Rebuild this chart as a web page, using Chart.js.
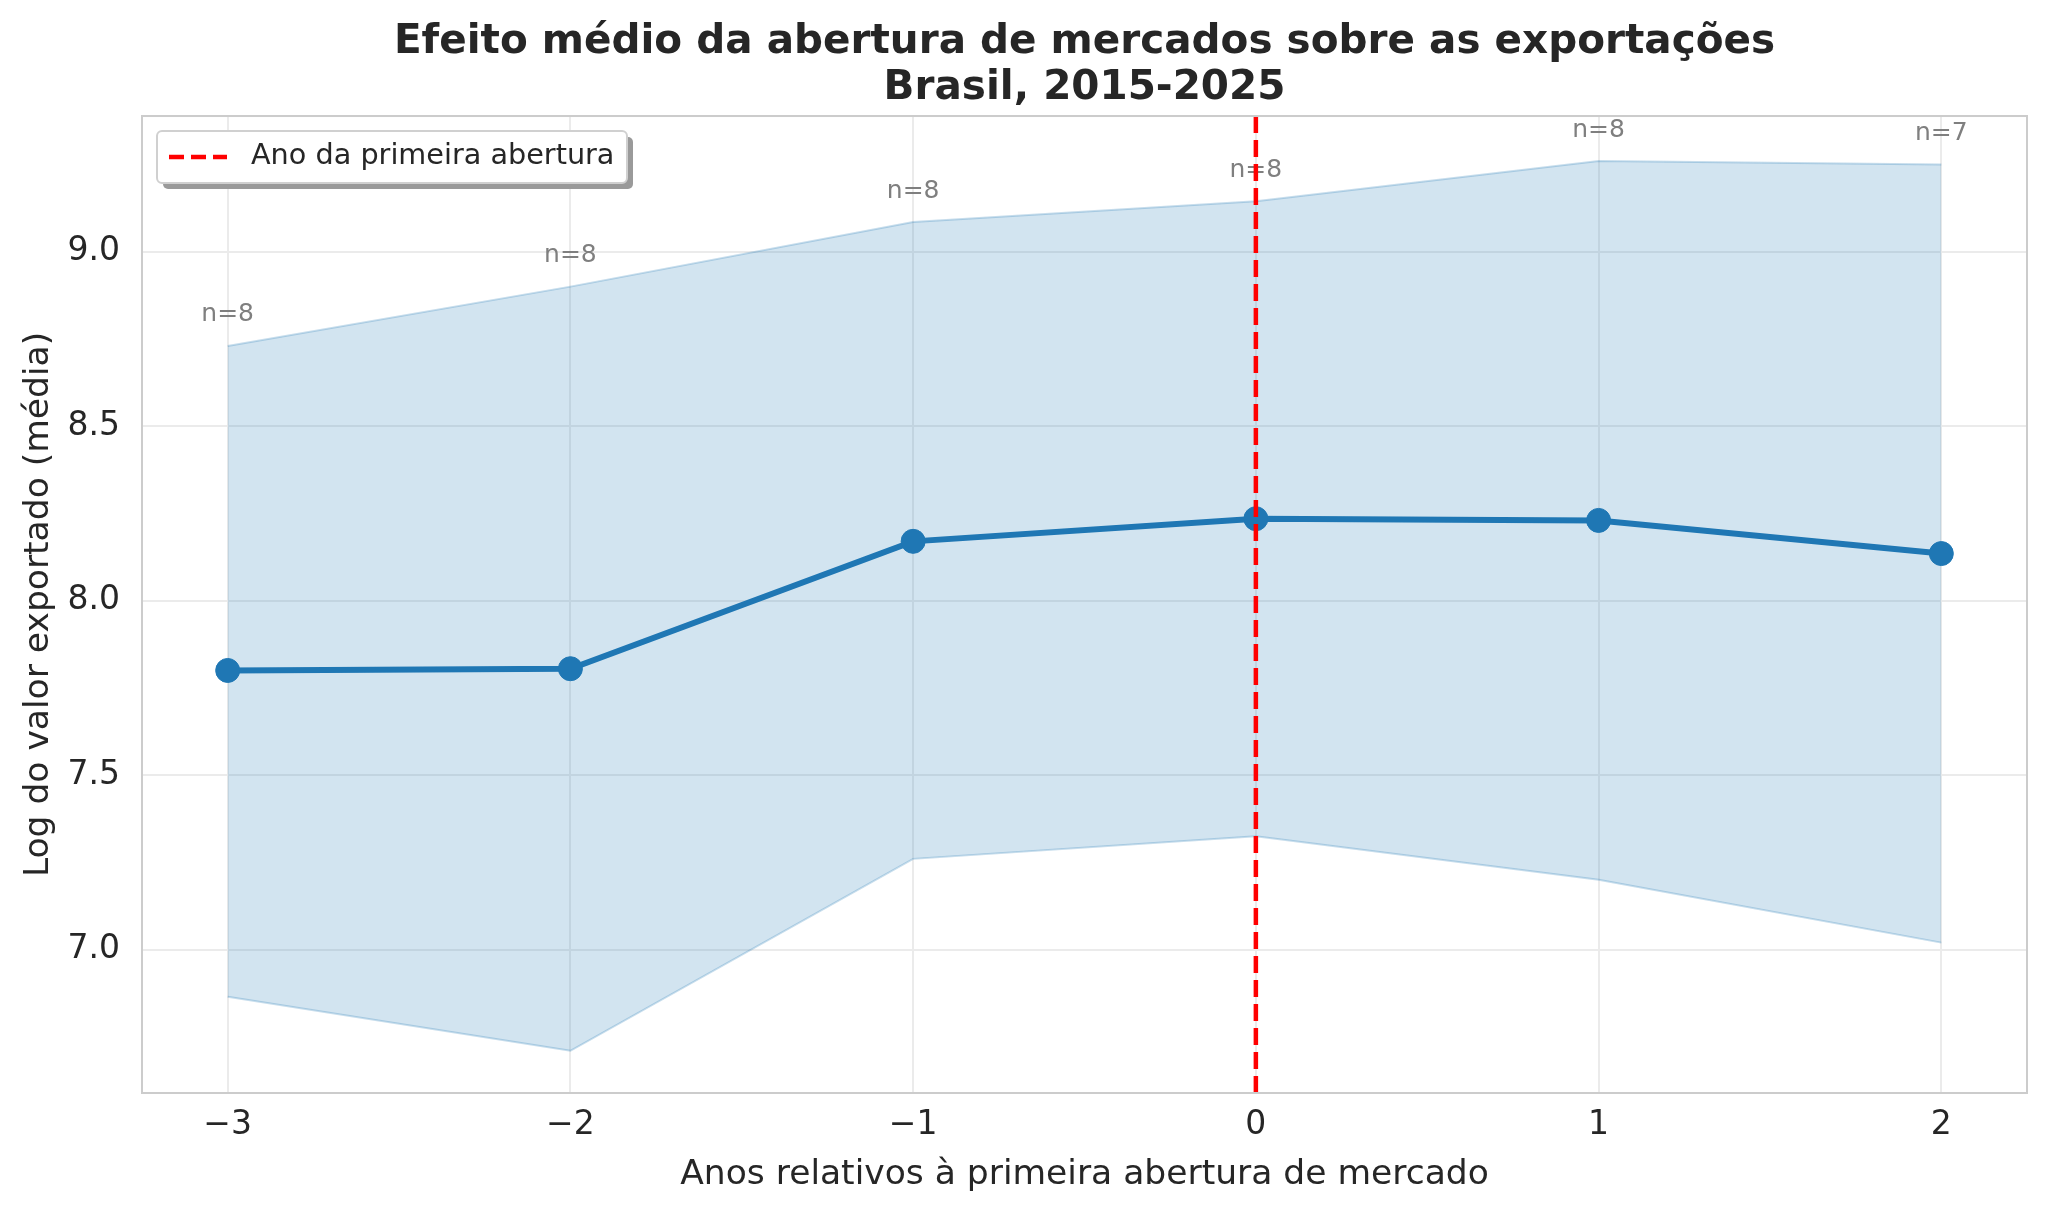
<!DOCTYPE html>
<html>
<head>
    <title>Efeito médio da abertura de mercados</title>
    <style>
        html, body { margin: 0; padding: 0; background: #ffffff; }
        canvas { display: block; }
    </style>
</head>
<body>
    <canvas id="eventChart" width="2048" height="1215" style="width:2048px;height:1215px"></canvas>
    <script src="https://cdn.jsdelivr.net/npm/chart.js"></script>
    <script>
        // dados
        const years = [-3, -2, -1, 0, 1, 2];
        const meanLog = [7.80, 7.805, 8.17, 8.235, 8.23, 8.135];
        const upperCI = [8.73, 8.90, 9.085, 9.145, 9.26, 9.25];
        const lowerCI = [6.865, 6.71, 7.26, 7.325, 7.20, 7.02];
        const nObs = [8, 8, 8, 8, 8, 7];
        const eventYear = 0;
        const legendLabel = 'Ano da primeira abertura';

        const FONT = "'DejaVu Sans', 'Noto Sans', sans-serif";
        const TEXT = '#262626';
        const BLUE = '#1f77b4';

        const toPoints = arr => years.map((x, i) => ({ x: x, y: arr[i] }));

        const extrasPlugin = {
            id: 'extras',
            afterDatasetsDraw(chart) {
                const { ctx, chartArea: a, scales: { x, y } } = chart;
                ctx.save();

                // n= labels above the upper band
                ctx.font = '25px ' + FONT;
                ctx.fillStyle = '#7f7f7f';
                ctx.textAlign = 'center';
                ctx.textBaseline = 'middle';
                years.forEach((yr, i) => {
                    ctx.fillText('n=' + nObs[i], x.getPixelForValue(yr), y.getPixelForValue(upperCI[i]) - 31);
                });

                // vertical event line
                const px = x.getPixelForValue(eventYear);
                ctx.strokeStyle = '#ff0000';
                ctx.lineWidth = 4.5;
                ctx.setLineDash([17, 7]);
                ctx.beginPath();
                ctx.moveTo(px, a.top);
                ctx.lineTo(px, a.bottom);
                ctx.stroke();
                ctx.setLineDash([]);

                // spines
                ctx.strokeStyle = '#cccccc';
                ctx.lineWidth = 2;
                ctx.strokeRect(a.left, a.top, a.right - a.left, a.bottom - a.top);

                // legend box with shadow
                const bx = a.left + 15, by = a.top + 15, bw = 470, bh = 52;
                const roundRect = (rx, ry) => {
                    ctx.beginPath();
                    ctx.roundRect(rx, ry, bw, bh, 5);
                };
                ctx.fillStyle = '#9a9a9a';
                roundRect(bx + 6, by + 6);
                ctx.fill();
                ctx.fillStyle = '#ffffff';
                roundRect(bx, by);
                ctx.fill();
                ctx.strokeStyle = '#d0d0d0';
                ctx.lineWidth = 2;
                ctx.stroke();

                const ly = by + bh / 2;
                ctx.strokeStyle = '#ff0000';
                ctx.lineWidth = 4.5;
                ctx.setLineDash([15, 7]);
                ctx.beginPath();
                ctx.moveTo(bx + 12, ly);
                ctx.lineTo(bx + 70, ly);
                ctx.stroke();
                ctx.setLineDash([]);

                ctx.font = '28.7px ' + FONT;
                ctx.fillStyle = TEXT;
                ctx.textAlign = 'left';
                ctx.fillText(legendLabel, bx + 94, ly);
                ctx.restore();
            }
        };

        const ctx = document.getElementById('eventChart').getContext('2d');
        new Chart(ctx, {
            type: 'line',
            data: {
                datasets: [
                    {
                        label: 'Média',
                        data: toPoints(meanLog),
                        borderColor: BLUE,
                        backgroundColor: BLUE,
                        borderWidth: 6,
                        pointRadius: 12,
                        pointBorderWidth: 1,
                        pointBackgroundColor: BLUE,
                        fill: false,
                        tension: 0
                    },
                    {
                        label: 'IC inferior',
                        data: toPoints(lowerCI),
                        borderColor: 'rgba(31,119,180,0.25)',
                        borderWidth: 2,
                        pointRadius: 0,
                        fill: false,
                        tension: 0
                    },
                    {
                        label: 'IC superior',
                        data: toPoints(upperCI),
                        borderColor: 'rgba(31,119,180,0.25)',
                        backgroundColor: 'rgba(31,119,180,0.2)',
                        borderWidth: 2,
                        pointRadius: 0,
                        fill: '-1',
                        tension: 0
                    }
                ]
            },
            options: {
                responsive: false,
                animation: false,
                devicePixelRatio: 1,
                layout: { padding: { left: 0, right: 21, top: 0, bottom: 0 } },
                plugins: {
                    legend: { display: false },
                    tooltip: { enabled: false },
                    title: {
                        display: true,
                        fullSize: false,
                        text: ['Efeito médio da abertura de mercados sobre as exportações', 'Brasil, 2015-2025'],
                        color: TEXT,
                        font: { family: FONT, size: 40.5, weight: 'bold', lineHeight: 1.136 },
                        padding: { top: 19, bottom: 5 }
                    }
                },
                scales: {
                    x: {
                        type: 'linear',
                        min: -3.25,
                        max: 2.25,
                        afterFit: s => { s.height = 122; },
                        ticks: {
                            stepSize: 1,
                            includeBounds: false,
                            padding: 13,
                            color: TEXT,
                            font: { family: FONT, size: 33 },
                            callback: v => (v < 0 ? '\u2212' + Math.abs(v) : String(v))
                        },
                        grid: { color: '#ebebeb', lineWidth: 2, drawTicks: false },
                        border: { display: false },
                        title: {
                            display: true,
                            text: 'Anos relativos à primeira abertura de mercado',
                            color: TEXT,
                            font: { family: FONT, size: 34.5 },
                            padding: { top: 0, bottom: 19 }
                        }
                    },
                    y: {
                        min: 6.589,
                        max: 9.389,
                        afterFit: s => { s.width = 142; },
                        ticks: {
                            stepSize: 0.5,
                            includeBounds: false,
                            padding: 22,
                            color: TEXT,
                            font: { family: FONT, size: 33 },
                            callback: v => v.toFixed(1)
                        },
                        grid: { color: '#ebebeb', lineWidth: 2, drawTicks: false },
                        border: { display: false },
                        title: {
                            display: true,
                            text: 'Log do valor exportado (média)',
                            color: TEXT,
                            font: { family: FONT, size: 34.5 },
                            padding: { top: 18, bottom: 0 }
                        }
                    }
                }
            },
            plugins: [extrasPlugin]
        });
    </script>
</body>
</html>
